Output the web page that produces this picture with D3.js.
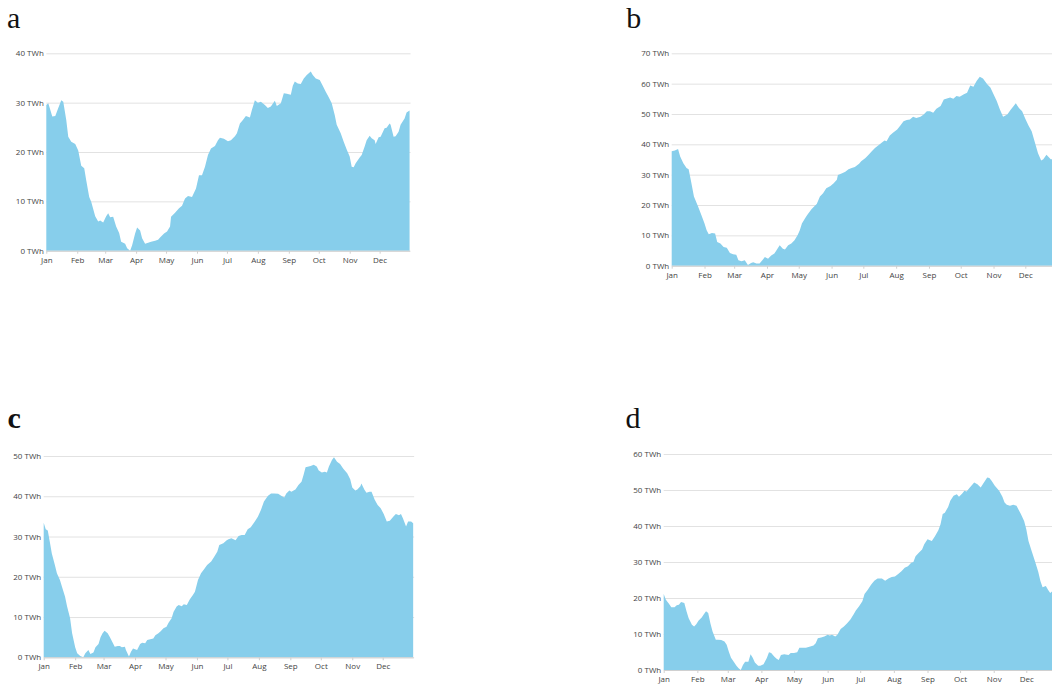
<!DOCTYPE html>
<html><head><meta charset="utf-8">
<script src="https://cdn.jsdelivr.net/npm/d3@7"></script>
<style>
html,body{margin:0;padding:0;background:#fff;overflow:hidden}
svg{display:block}
.tick text{font-family:"Open Sans",sans-serif;font-size:8px;fill:#444}
.letter{font-family:"Liberation Serif",serif;font-size:30px;fill:#111}
</style></head><body>
<svg id="chart" width="1052" height="686"></svg>
<script>
// ---- data ----
const monthStarts = [0,31,59,90,120,151,181,212,243,273,304,334];
const monthLabels = ["Jan","Feb","Mar","Apr","May","Jun","Jul","Aug","Sep","Oct","Nov","Dec"];
const panelLetters = ["a","b","c","d"];
const yTicksA = [0,10,20,30,40];
const yTicksB = [0,10,20,30,40,50,60,70];
const yTicksC = [0,10,20,30,40,50];
const yTicksD = [0,10,20,30,40,50,60];

const daysA = [0,2,6,9,12,15,17,20,22,25,29,32,35,38,40,43,45,49,52,54,57,60,62,64,67,70,73,75,79,81,84,86,89,91,94,96,99,102,105,109,112,114,118,121,124,125,129,133,136,139,142,146,150,153,156,159,162,165,169,172,174,178,182,185,189,191,194,197,200,204,206,209,212,215,219,222,225,229,231,235,238,241,245,247,249,252,255,258,261,265,267,270,274,277,280,283,286,289,291,295,298,301,304,306,308,310,314,316,319,321,324,326,329,330,333,335,339,341,344,345,348,350,353,355,359,361,364];
const twhA = [29.5,29.9,27.2,27.3,28.9,30.5,30.2,26.5,23.1,22.1,21.6,20.3,17.2,16.7,14.3,10.9,9.9,7.0,5.9,6.1,5.7,7.0,7.6,6.8,6.9,4.9,3.6,1.8,1.4,0.5,0,1.1,3.5,4.7,4.1,2.5,1.4,1.6,1.8,2.0,2.2,2.7,3.5,3.9,4.9,6.9,7.7,8.6,9.1,10.6,11.1,10.9,12.6,15.3,15.3,17.0,19.4,20.7,21.2,22.4,22.9,22.7,22.2,22.4,23.2,23.8,25.8,26.5,27.3,27.0,28.5,30.5,30.0,30.2,29.5,28.9,29.2,30.4,29.3,29.9,31.9,31.8,31.6,33.4,34.3,33.9,33.8,34.9,35.6,36.3,35.6,34.9,34.6,33.4,32.2,31.1,29.9,27.5,25.5,23.8,22.1,20.5,19.1,17.0,16.9,17.7,18.9,19.4,21.1,22.4,23.3,22.8,22.4,21.6,23.0,23.1,24.8,24.9,25.8,25.5,23.1,23.2,24.1,25.5,26.8,28.0,28.4];

const daysB = [0,3,6,8,11,14,16,18,21,25,28,31,33,35,38,41,43,46,49,52,55,58,61,63,66,69,72,75,77,80,83,86,88,91,94,97,99,102,105,107,110,113,116,119,121,123,126,128,132,135,137,140,143,146,150,153,156,157,161,164,167,170,173,177,179,183,186,189,192,195,198,201,203,206,209,213,216,219,222,225,228,231,235,238,241,244,247,250,254,257,260,263,266,269,272,276,279,282,285,288,291,294,298,301,304,307,310,313,317,320,323,325,328,331,334,337,340,343,346,349,351,354,358,364];
const twhB = [37.7,38.0,38.5,36.0,33.8,32.2,31.8,28.3,22.8,19.4,16.7,13.9,11.7,10.4,10.8,10.6,7.8,7.3,6.2,5.9,4.2,3.8,3.6,1.8,1.5,1.8,0.2,0.9,1.1,0.7,0.7,2.0,2.9,2.3,3.4,4.0,5.1,6.7,5.6,5.3,6.7,7.3,8.4,10.1,11.7,13.9,15.6,16.7,18.6,19.7,20.3,22.8,23.9,25.5,26.3,27.2,28.3,29.9,30.5,31.0,31.8,32.2,32.5,33.6,34.4,35.5,36.6,37.7,38.8,39.6,40.4,41.3,41.0,42.9,43.8,44.9,46.2,47.6,48.0,48.2,49.1,48.7,49.1,49.8,50.9,50.9,50.4,51.7,52.6,54.8,55.1,55.4,55.0,55.9,55.7,56.5,57.0,59.4,59.0,60.9,62.3,61.7,59.8,58.7,56.5,54.3,51.5,49.1,49.8,51.3,52.6,53.5,52.0,50.9,48.4,46.2,44.3,40.7,37.1,34.7,35.1,36.6,35.1,35.0];

const daysC = [0,2,4,6,8,11,13,16,18,21,23,26,28,31,33,36,39,41,44,46,49,51,54,56,58,60,63,65,67,70,73,75,77,80,81,84,86,88,90,92,95,97,100,102,105,108,110,113,115,118,121,123,126,128,131,133,136,138,141,144,147,149,152,155,158,161,165,168,171,173,177,180,182,185,189,192,195,198,201,204,208,211,214,217,221,224,227,231,234,237,239,242,244,248,251,254,256,258,261,263,266,269,271,274,277,279,281,284,286,289,292,295,299,302,304,307,309,312,313,316,318,321,323,326,329,332,335,338,341,345,347,350,352,354,357,359,362,364];
const twhC = [33.4,31.8,31.5,28.7,25.8,22.9,20.9,19.2,17.5,15.1,12.7,9.7,6.0,2.5,1.0,0.3,0,1.0,1.8,0.8,1.2,2.5,3.3,5.0,6.0,6.6,6.0,5.1,4.1,2.6,2.8,2.8,2.5,2.6,1.8,0.2,1.4,2.2,2.0,1.8,3.3,3.6,3.5,4.3,4.5,4.7,5.5,6.0,6.4,7.2,7.6,8.6,9.7,11.3,12.6,13.0,12.7,13.2,13.0,14.4,15.5,16.3,19.2,20.9,21.9,22.9,23.8,25.0,26.2,27.9,28.3,29.0,29.3,29.6,29.1,30.1,30.4,30.4,31.8,32.3,33.7,34.9,36.6,38.7,40.1,40.7,40.7,40.6,40.1,39.7,40.7,41.4,41.1,41.7,42.8,43.6,45.3,47.2,47.4,47.5,47.8,47.4,46.4,45.9,46.1,45.9,47.4,49.0,49.7,48.6,48.0,46.9,45.7,44.2,42.2,41.4,41.7,42.5,43.2,41.6,40.9,41.1,41.1,39.2,37.8,37.0,35.6,33.7,33.9,35.1,35.6,35.3,35.6,34.5,32.5,33.7,33.7,33.3];

const daysD = [0,2,5,7,10,12,14,16,19,21,23,26,28,30,32,35,37,39,41,43,45,48,50,53,56,58,60,62,65,67,69,71,73,75,78,80,82,84,87,89,92,95,97,99,102,104,106,108,111,115,117,120,123,125,128,131,135,138,140,142,145,148,151,153,155,158,160,163,166,169,172,175,177,180,183,185,188,191,194,197,201,204,207,210,213,216,219,222,225,228,230,232,235,238,240,243,247,250,253,255,257,259,262,264,267,270,272,275,277,279,282,284,286,289,292,295,298,300,302,305,309,312,314,316,319,322,325,329,332,334,336,339,342,345,347,349,352,354,356,358,364];
const twhD = [21.1,19.5,18.3,17.4,17.4,18.0,18.1,18.9,18.6,16.3,14.4,12.6,12.1,12.7,13.7,14.6,15.5,16.3,15.8,13.0,10.7,8.4,8.4,8.3,7.9,7.0,5.1,3.4,2.1,1.2,0.5,0,1.4,2.3,2.3,4.4,3.4,2.1,1.2,1.2,1.6,3.3,4.9,4.7,3.7,3.1,2.8,4.2,4.4,4.2,4.7,4.7,4.9,6.2,6.2,6.2,6.5,6.8,7.4,8.8,9.0,9.3,9.8,9.6,9.8,9.3,9.8,11.4,12.1,13.0,14.0,15.5,16.5,17.7,19.1,21.1,22.3,23.7,24.8,25.4,25.4,24.8,25.4,25.8,26.0,26.7,27.4,28.4,28.8,29.8,30.0,31.6,32.6,33.5,34.9,36.3,35.8,37.2,38.8,40.5,43.3,43.7,45.3,47.0,48.4,48.8,48.1,49.0,49.8,49.6,50.7,51.4,52.1,51.6,50.7,52.1,53.5,53.3,52.6,51.2,49.8,48.1,46.5,45.9,45.6,45.9,45.6,43.3,41.4,39.1,35.8,33.0,30.2,27.3,24.7,23.0,23.3,22.3,21.4,21.9,21.5];

// ---- layout ----
const panels = [
  {days: daysA, vals: twhA, ticks: yTicksA, left: 46.3, pxDay: 0.998, top: 53.3, bottom: 250.7, lx: 7, ly: 28, bold: false},
  {days: daysB, vals: twhB, ticks: yTicksB, left: 671.7, pxDay: 1.0587, top: 53.3, bottom: 265.7, lx: 626.3, ly: 28, bold: false},
  {days: daysC, vals: twhC, ticks: yTicksC, left: 43.7, pxDay: 1.015, top: 456, bottom: 657.3, lx: 7.5, ly: 428, bold: true},
  {days: daysD, vals: twhD, ticks: yTicksD, left: 663.7, pxDay: 1.0856, top: 454, bottom: 670, lx: 625.5, ly: 428, bold: false}
];

const svg = d3.select("#chart");

panels.forEach((p, i) => {
  const right = p.left + 364 * p.pxDay;
  const x = d3.scaleLinear().domain([0, 364]).range([p.left, right]);
  const yMax = d3.max(p.ticks);
  const y = d3.scaleLinear().domain([0, yMax]).range([p.bottom, p.top]);
  const g = svg.append("g");

  // gridlines + y labels
  const ya = g.append("g").attr("transform", `translate(${p.left},0)`)
    .call(d3.axisLeft(y).tickValues(p.ticks).tickFormat(d => d + " TWh")
      .tickSize(-(right - p.left + 1)).tickPadding(2.5));
  ya.select(".domain").remove();
  ya.selectAll(".tick line").attr("stroke", "#e2e2e2").attr("stroke-width", 1);

  // area
  const pts = p.days.map((d, k) => [d, p.vals[k]]);
  g.append("path").datum(pts)
    .attr("fill", "#87CEEB")
    .attr("d", d3.area().x(d => x(d[0])).y0(y(0)).y1(d => y(d[1])));

  // x axis
  const xa = g.append("g").attr("transform", `translate(0,${p.bottom})`)
    .call(d3.axisBottom(x).tickValues(monthStarts).tickFormat((d, k) => monthLabels[k])
      .tickSize(3).tickSizeOuter(0).tickPadding(3.3));
  xa.select(".domain").attr("stroke", "#d0d0d0");
  xa.selectAll(".tick line").attr("stroke", "#d0d0d0");

  // panel letter
  g.append("text").attr("class", "letter")
    .attr("x", p.lx).attr("y", p.ly)
    .attr("font-weight", p.bold ? "bold" : "normal")
    .text(panelLetters[i]);
});
</script>
</body></html>
